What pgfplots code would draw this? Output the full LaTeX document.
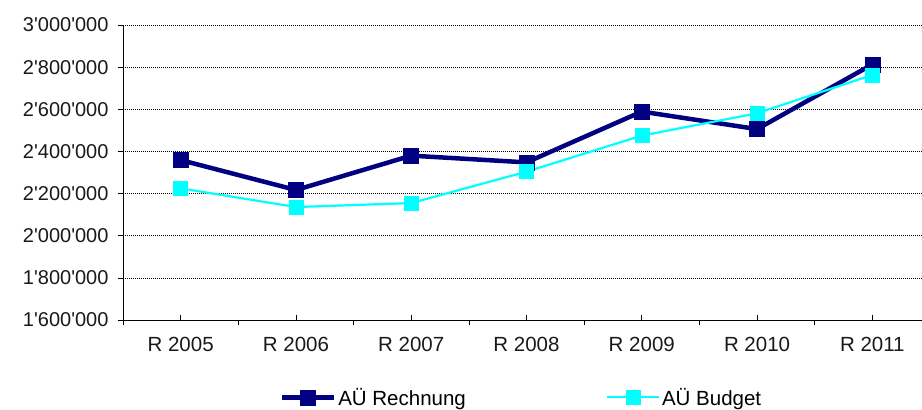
\documentclass[border=0pt]{standalone}
\usepackage{fontspec}
\setmainfont{Liberation Sans}[Ligatures=TeXOff]
\usepackage{pgfplots}
\pgfplotsset{compat=1.18}
\definecolor{navyR}{RGB}{0,0,128}
\definecolor{cyanB}{RGB}{0,255,255}
\begin{document}
\begin{tikzpicture}
\clip (0,0) rectangle (922bp,410bp);
\begin{axis}[
  at={(123bp,90bp)}, anchor=south west,
  scale only axis, width=807bp, height=295bp,
  xmin=-0.5, xmax=6.5, ymin=1600000, ymax=3000000,
  axis x line*=bottom, axis y line*=left,
  axis line style={-, black, line width=0.8bp},
  xtick={0,...,6},
  xticklabels={R 2005,R 2006,R 2007,R 2008,R 2009,R 2010,R 2011},
  minor xtick={-0.5,0.5,1.5,2.5,3.5,4.5,5.5,6.5},
  ytick={1600000,1800000,2000000,2200000,2400000,2600000,2800000,3000000},
  tick align=outside,
  major tick length=5bp, minor tick length=5bp,
  major x tick style={yshift=5bp},
  tick style={black, line width=0.6bp},
  scaled y ticks=false,
  ticklabel style={font=\fontsize{20.5bp}{24bp}\selectfont, text=black!90},
  yticklabel style={xshift=-6bp, font=\fontsize{20bp}{24bp}\selectfont,
    /pgf/number format/fixed, /pgf/number format/precision=0,
    /pgf/number format/1000 sep={'}, /pgf/number format/assume math mode=true},
  xticklabel style={yshift=-9bp},
  ymajorgrids,
  major grid style={black, line width=0.6bp, dash pattern=on 1bp off 1bp},
  legend columns=2,
  legend style={draw=none, fill=none, at={(0.194,-0.262)}, anchor=west,
    font=\fontsize{20.5bp}{24bp}\selectfont, inner sep=0pt,
    /tikz/every even column/.append style={column sep=138bp}},
  legend cell align=left,
  legend image code/.code={\draw[mark repeat=2,mark phase=2] plot coordinates {(0bp,0bp)(26bp,0bp)(52bp,0bp)};},
]
\addplot[navyR, line width=4.5bp, mark=square*, mark size=7.5bp, mark options={solid, line width=0.5bp}]
  coordinates {(0,2359000)(1,2217000)(2,2380000)(3,2348000)(4,2589000)(5,2506000)(6,2813000)};
\addlegendentry{AÜ Rechnung}
\addplot[cyanB, line width=2.2bp, mark=square*, mark size=7bp, mark options={solid, line width=0.5bp}]
  coordinates {(0,2225000)(1,2136000)(2,2155000)(3,2304000)(4,2475000)(5,2581000)(6,2763000)};
\addlegendentry{AÜ Budget}
\end{axis}
\end{tikzpicture}
\end{document}
